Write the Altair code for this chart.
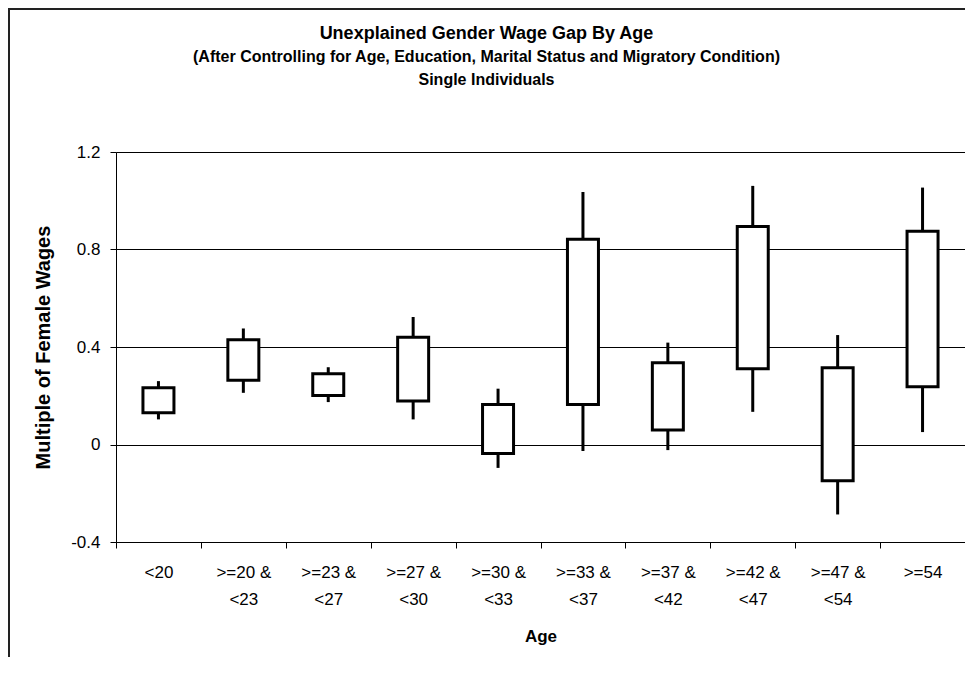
import altair as alt
import pandas as pd

ages = ["<20", ">=20 & <23", ">=23 & <27", ">=27 & <30", ">=30 & <33",
        ">=33 & <37", ">=37 & <42", ">=42 & <47", ">=47 & <54", ">=54"]
box_high = [0.233, 0.430, 0.290, 0.440, 0.164, 0.842, 0.335, 0.894, 0.315, 0.875]
box_low = [0.130, 0.264, 0.201, 0.178, -0.037, 0.164, 0.059, 0.311, -0.149, 0.237]
whisker_high = [0.260, 0.476, 0.317, 0.523, 0.229, 1.036, 0.418, 1.061, 0.449, 1.054]
whisker_low = [0.103, 0.212, 0.174, 0.103, -0.096, -0.027, -0.023, 0.134, -0.287, 0.051]
y_ticks = [-0.4, 0, 0.4, 0.8, 1.2]

df = pd.DataFrame({
    "age": ages,
    "box_high": box_high,
    "box_low": box_low,
    "whisker_high": whisker_high,
    "whisker_low": whisker_low,
})

FONT = "Liberation Sans"

x_enc = alt.X(
    "age:N",
    sort=ages,
    scale=alt.Scale(paddingInner=0, paddingOuter=0),
    axis=alt.Axis(
        title="Age",
        titleFont=FONT, titleFontSize=17, titleFontWeight="bold", titleColor="black",
        titleY=94, titleBaseline="middle",
        labelFont=FONT, labelFontSize=17, labelColor="black", labelAngle=0,
        labelExpr="split(replace(datum.label, '& ', '&|'), '|')",
        labelLineHeight=27, labelPadding=16,
        tickBand="extent", tickSize=6, tickColor="black", domainColor="black",
        labelBaseline="top",
    ),
)

y_scale = alt.Scale(domain=[-0.4, 1.2], nice=False)
y_axis = alt.Axis(
    title="Multiple of Female Wages",
    titleFont=FONT, titleFontSize=20, titleFontWeight="bold", titleColor="black",
    titleX=-73, titleY=195, titleAngle=270, titleBaseline="middle", titleAlign="center",
    values=y_ticks,
    labelExpr="toString(round(datum.value*10)/10)",
    labelFont=FONT, labelFontSize=17, labelColor="black", labelPadding=10,
    tickSize=6, tickColor="black", domainColor="black",
    grid=True, gridColor="black", gridWidth=1,
)

base = alt.Chart(df)

whiskers = base.mark_rule(color="black", strokeWidth=3).encode(
    x=x_enc,
    y=alt.Y("whisker_low:Q", scale=y_scale, axis=y_axis),
    y2="whisker_high:Q",
)

boxes = base.mark_bar(fill="white", stroke="black", strokeWidth=3, size=31).encode(
    x=alt.X("age:N", sort=ages),
    y=alt.Y("box_low:Q", scale=y_scale),
    y2="box_high:Q",
)

border_left = alt.Chart(pd.DataFrame({"v": [0]})).mark_rule(color="#222222", strokeWidth=2).encode(
    x=alt.value(-107), y=alt.value(-143), y2=alt.value(505)
)
border_top = alt.Chart(pd.DataFrame({"v": [0]})).mark_rule(color="#222222", strokeWidth=2).encode(
    x=alt.value(-108), x2=alt.value(849), y=alt.value(-143)
)

chart = alt.layer(whiskers, boxes, border_left, border_top).properties(
    width=849,
    height=390,
    autosize=alt.AutoSizeParams(type="none"),
    padding={"left": 108, "top": 144, "right": 0, "bottom": 115},
    title=alt.TitleParams(
        text="Unexplained Gender Wage Gap By Age",
        subtitle=["(After Controlling for Age, Education, Marital Status and Migratory Condition)",
                  "Single Individuals"],
        font=FONT, fontSize=18, fontWeight="bold", color="black",
        subtitleFont=FONT, subtitleFontSize=16, subtitleFontWeight="bold", subtitleColor="black",
        subtitleLineHeight=23, subtitlePadding=6,
        anchor="middle", frame="group", dx=-54, offset=-80,
    ),
).configure_view(stroke=None).configure(background="white")

chart.save("out.html", embed_options={"renderer": "svg", "actions": False})
